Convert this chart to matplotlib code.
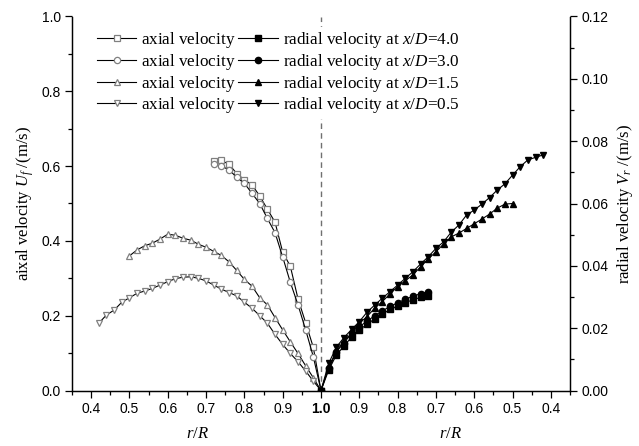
import matplotlib
matplotlib.use("Agg")
import matplotlib.pyplot as plt
from matplotlib.ticker import MultipleLocator, FixedLocator, FixedFormatter
from matplotlib.lines import Line2D

# ---- axial velocity U_f (left half, plotted against r/R) ----
r_ax40 = [0.72, 0.74, 0.76, 0.78, 0.80, 0.82, 0.84, 0.86, 0.88, 0.90, 0.92, 0.94, 0.96, 0.98, 1.00]
u_ax40 = [0.614, 0.615, 0.605, 0.580, 0.563, 0.550, 0.520, 0.485, 0.450, 0.370, 0.332, 0.245, 0.181, 0.115, 0.0]
r_ax30 = [0.72, 0.74, 0.76, 0.78, 0.80, 0.82, 0.84, 0.86, 0.88, 0.90, 0.92, 0.94, 0.96, 0.98, 1.00]
u_ax30 = [0.605, 0.600, 0.590, 0.570, 0.554, 0.527, 0.500, 0.460, 0.422, 0.357, 0.289, 0.229, 0.162, 0.090, 0.0]
r_ax15 = [0.50, 0.52, 0.54, 0.56, 0.58, 0.60, 0.62, 0.64, 0.66, 0.68, 0.70, 0.72, 0.74,
          0.76, 0.78, 0.80, 0.82, 0.84, 0.86, 0.88, 0.90, 0.92, 0.94, 0.96, 0.98, 1.00]
u_ax15 = [0.360, 0.376, 0.387, 0.394, 0.405, 0.418, 0.415, 0.407, 0.402, 0.391, 0.383, 0.372, 0.361,
          0.344, 0.321, 0.297, 0.279, 0.248, 0.229, 0.195, 0.162, 0.130, 0.099, 0.066, 0.034, 0.0]
r_ax05 = [0.42, 0.44, 0.46, 0.48, 0.50, 0.52, 0.54, 0.56, 0.58, 0.60, 0.62, 0.64, 0.66, 0.68, 0.70,
          0.72, 0.74, 0.76, 0.78, 0.80, 0.82, 0.84, 0.86, 0.88, 0.90, 0.92, 0.94, 0.96, 0.98, 1.00]
u_ax05 = [0.180, 0.202, 0.215, 0.236, 0.248, 0.260, 0.266, 0.273, 0.282, 0.291, 0.299, 0.303, 0.304, 0.300, 0.293,
          0.282, 0.271, 0.262, 0.253, 0.236, 0.220, 0.200, 0.180, 0.150, 0.123, 0.099, 0.077, 0.052, 0.025, 0.0]

# ---- radial velocity V_r (right half, r/R decreasing from 1.0) ----
r_rd40 = [1.00, 0.98, 0.96, 0.94, 0.92, 0.90, 0.88, 0.86, 0.84, 0.82, 0.80, 0.78, 0.76, 0.74, 0.72]
v_rd40 = [0.0, 0.0065, 0.0114, 0.0142, 0.0172, 0.0195, 0.0212, 0.0230, 0.0245, 0.0260, 0.0270, 0.0282, 0.0291, 0.0299, 0.0303]
r_rd30 = [1.00, 0.98, 0.96, 0.94, 0.92, 0.90, 0.88, 0.86, 0.84, 0.82, 0.80, 0.78, 0.76, 0.74, 0.72]
v_rd30 = [0.0, 0.0072, 0.0124, 0.0153, 0.0183, 0.0205, 0.0222, 0.0240, 0.0255, 0.0270, 0.0281, 0.0293, 0.0302, 0.0311, 0.0317]
r_rd15 = [1.00, 0.98, 0.96, 0.94, 0.92, 0.90, 0.88, 0.86, 0.84, 0.82, 0.80, 0.78, 0.76,
          0.74, 0.72, 0.70, 0.68, 0.66, 0.64, 0.62, 0.60, 0.58, 0.56, 0.54, 0.52, 0.50]
v_rd15 = [0.0, 0.0076, 0.0125, 0.0160, 0.0183, 0.0216, 0.0237, 0.0264, 0.0285, 0.0310, 0.0333, 0.0352, 0.0371,
          0.0397, 0.0422, 0.0445, 0.0470, 0.0493, 0.0505, 0.0520, 0.0535, 0.0550, 0.0566, 0.0585, 0.0598, 0.0600]
r_rd05 = [1.00, 0.98, 0.96, 0.94, 0.92, 0.90, 0.88, 0.86, 0.84, 0.82, 0.80, 0.78, 0.76, 0.74, 0.72,
          0.70, 0.68, 0.66, 0.64, 0.62, 0.60, 0.58, 0.56, 0.54, 0.52, 0.50, 0.48, 0.46, 0.44, 0.42]
v_rd05 = [0.0, 0.0087, 0.0139, 0.0170, 0.0196, 0.0221, 0.0251, 0.0274, 0.0296, 0.0317, 0.0338, 0.0360, 0.0381, 0.0406, 0.0429,
          0.0456, 0.0477, 0.0508, 0.0531, 0.0563, 0.0579, 0.0598, 0.0619, 0.0643, 0.0663, 0.0691, 0.0718, 0.0740, 0.0748, 0.0756]

# ---- tick labels along the mirrored r/R axis ----
x_tick_pos = [0.4, 0.5, 0.6, 0.7, 0.8, 0.9, 1.0, 1.1, 1.2, 1.3, 1.4, 1.5, 1.6]
x_tick_lbl = ["0.4", "0.5", "0.6", "0.7", "0.8", "0.9", "1.0", "0.9", "0.8", "0.7", "0.6", "0.5", "0.4"]

axial_labels = [r"$\mathrm{axial\ velocity}$"] * 4
radial_labels = ["radial velocity at $x/D$=4.0", "radial velocity at $x/D$=3.0",
                 "radial velocity at $x/D$=1.5", "radial velocity at $x/D$=0.5"]

SERIF = ["Liberation Serif", "DejaVu Serif"]
plt.rcParams["font.family"] = ["Liberation Sans", "DejaVu Sans"]
plt.rcParams["mathtext.fontset"] = "custom"
plt.rcParams["mathtext.rm"] = "Liberation Serif"
plt.rcParams["mathtext.it"] = "Liberation Serif:italic"
plt.rcParams["mathtext.bf"] = "Liberation Serif:bold"

fig = plt.figure(figsize=(6.39, 4.46), dpi=100)
ax = fig.add_axes([72 / 639, 1 - 390.5 / 446, 498 / 639, 374 / 446])
ax2 = ax.twinx()

gray = "#808080"
ms = 4.5
axial_style = dict(color="black", lw=0.8, mfc="white", mec=gray, mew=0.9, ms=ms)
radial_style = dict(color="black", lw=0.8, mfc="black", mec="black", ms=ms)
markers = ["s", "o", "^", "v"]

axial_sets = [(r_ax40, u_ax40), (r_ax30, u_ax30), (r_ax15, u_ax15), (r_ax05, u_ax05)]
radial_sets = [(r_rd40, v_rd40), (r_rd30, v_rd30), (r_rd15, v_rd15), (r_rd05, v_rd05)]

for (r, u), m in zip(axial_sets, markers):
    ax.plot(r, u, marker=m, **axial_style)

for (r, v), m in zip(radial_sets, markers):
    ax2.plot([2 - x for x in r], v, marker=m, **radial_style)

ax.axvline(1.0, color="#707070", lw=1.0, ls=(0, (4, 3)), zorder=0)

ax.set_xlim(0.35, 1.65)
ax.set_ylim(0, 1.0)
ax2.set_ylim(0, 0.12)

ax.xaxis.set_major_locator(FixedLocator(x_tick_pos))
ax.xaxis.set_major_formatter(FixedFormatter(x_tick_lbl))
ax.xaxis.set_minor_locator(MultipleLocator(0.05))
ax.yaxis.set_major_locator(MultipleLocator(0.2))
ax.yaxis.set_minor_locator(MultipleLocator(0.1))
ax.yaxis.set_major_formatter(plt.FuncFormatter(lambda v, p: f"{v:.1f}"))
ax2.yaxis.set_major_locator(MultipleLocator(0.02))
ax2.yaxis.set_minor_locator(MultipleLocator(0.01))
ax2.yaxis.set_major_formatter(plt.FuncFormatter(lambda v, p: f"{v:.2f}"))

for a in (ax, ax2):
    a.tick_params(which="major", direction="out", length=5, width=0.9, labelsize=10, pad=3)
    a.tick_params(which="minor", direction="out", length=3, width=0.9)
    a.spines["top"].set_visible(False)
    for s in ("left", "right", "bottom"):
        a.spines[s].set_linewidth(0.9)

for lbl in ax.get_xticklabels():
    if lbl.get_text() == "1.0" and abs(lbl.get_position()[0] - 1.0) < 1e-6:
        lbl.set_fontweight("bold")

ax.set_ylabel("aixal velocity $U_f$ /(m/s)", family=SERIF, fontsize=12, labelpad=4)
ax2.set_ylabel("radial velocity $V_r$ /(m/s)", family=SERIF, fontsize=12, labelpad=5, rotation=90)

fig.text(197 / 639, 1 - 433 / 446, "$r/R$", ha="center", va="center", fontsize=12)
fig.text(450 / 639, 1 - 433 / 446, "$r/R$", ha="center", va="center", fontsize=12)

handles = []
labels = []
for m, t in zip(markers, axial_labels):
    handles.append(Line2D([], [], marker=m, **axial_style))
    labels.append(t)
for m, t in zip(markers, radial_labels):
    handles.append(Line2D([], [], marker=m, **radial_style))
    labels.append(t)

leg = ax2.legend(handles, labels, ncol=2, loc="upper left", bbox_to_anchor=(0.026, 0.995),
                 prop={"family": SERIF, "size": 12.3}, frameon=True, facecolor="white",
                 edgecolor="none", framealpha=1, fancybox=False, handlelength=2.3,
                 handletextpad=0.3, columnspacing=0.15, labelspacing=0.1, borderpad=0.2)

fig.savefig("out.png", dpi=100)
